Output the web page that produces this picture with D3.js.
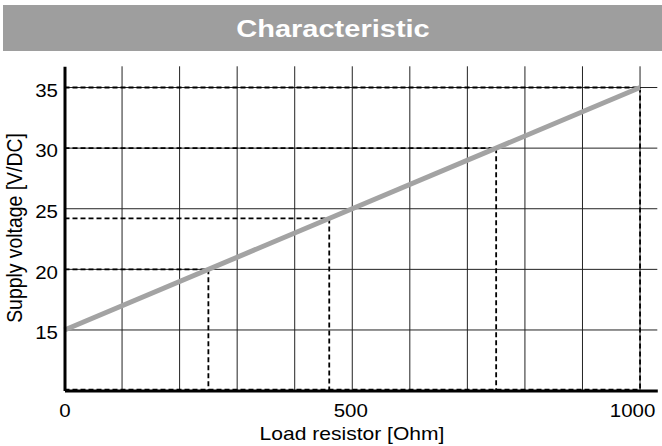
<!DOCTYPE html>
<html><head><meta charset="utf-8">
<script src="https://cdn.jsdelivr.net/npm/d3@7"></script>
<style>
html,body{margin:0;padding:0;background:#fff;}
svg{display:block;}
text{font-family:"Liberation Sans",Arial,Helvetica,sans-serif;}
</style></head>
<body><svg id="c" width="662" height="446"></svg>
<script>
const titleText = "Characteristic";
const xLabel = "Load resistor [Ohm]";
const yLabel = "Supply voltage [V/DC]";
const xTicks = [0, 500, 1000];
const yTicks = [15, 20, 25, 30, 35];
const xGrid = [100, 200, 300, 400, 500, 600, 700, 800, 900, 1000];
const yGrid = [15, 20, 25, 30, 35];
const lineX = [0, 1000];
const lineY = [15, 35];
const markX = [250, 460, 750, 1000];
const markY = [20, 24.2, 30, 35];

const svg = d3.select("#c");
const SX = 1.17;
const x = d3.scaleLinear().domain([0, 1030]).range([64.5, 657.3]);
const y = d3.scaleLinear().domain([10, 36.75]).range([390.6, 66.3]);

// title bar
svg.append("rect").attr("x", 3).attr("y", 5).attr("width", 659).attr("height", 46).attr("fill", "#9e9e9e");
svg.append("text").attr("transform", `translate(333,37) scale(${SX},1)`)
  .attr("text-anchor", "middle").attr("fill", "#fff").attr("font-weight", "bold")
  .attr("font-size", 24.8).text(titleText);

// grid
const g = svg.append("g");
g.selectAll(".vg").data(xGrid).enter().append("line")
  .attr("x1", d => x(d)).attr("x2", d => x(d)).attr("y1", y(10)).attr("y2", y(36.75))
  .attr("stroke", "#222").attr("stroke-width", 1);
g.selectAll(".hg").data(yGrid).enter().append("line")
  .attr("x1", x(0)).attr("x2", x(1030)).attr("y1", d => y(d)).attr("y2", d => y(d))
  .attr("stroke", "#222").attr("stroke-width", 1);

// dashed guides
const pts = markX.map((v, i) => ({x: v, y: markY[i]}));
g.selectAll(".dh").data(pts).enter().append("line")
  .attr("x1", x(0)).attr("x2", d => x(d.x)).attr("y1", d => y(d.y)).attr("y2", d => y(d.y))
  .attr("stroke", "#000").attr("stroke-width", 1.8).attr("stroke-dasharray", "5,3");
g.selectAll(".dv").data(pts).enter().append("line")
  .attr("x1", d => x(d.x)).attr("x2", d => x(d.x)).attr("y1", d => y(d.y)).attr("y2", y(10))
  .attr("stroke", "#000").attr("stroke-width", 1.8).attr("stroke-dasharray", "5,3");
// dashed bottom guide
g.append("line").attr("x1", x(0)).attr("x2", x(1000)).attr("y1", y(10) - 1).attr("y2", y(10) - 1)
  .attr("stroke", "#000").attr("stroke-width", 1.8).attr("stroke-dasharray", "5,3");

// characteristic line
const ld = lineX.map((v, i) => [v, lineY[i]]);
svg.append("path").datum(ld)
  .attr("d", d3.line().x(d => x(d[0])).y(d => y(d[1])))
  .attr("fill", "none").attr("stroke", "#a3a3a3").attr("stroke-width", 5);

// axes
const xShift = {0: 0, 500: -2, 1000: -8};
const ax = svg.append("g").attr("transform", `translate(0,${y(10)})`)
  .call(d3.axisBottom(x).tickValues(xTicks).tickSize(0).tickPadding(14).tickFormat(d3.format("d")));
ax.select(".domain").attr("stroke", "#000").attr("stroke-width", 3);
ax.selectAll("text").attr("font-size", 17.5).attr("fill", "#000").attr("font-family", "Liberation Sans, Arial, sans-serif")
  .attr("dy", "0.71em").attr("x", 0)
  .attr("transform", d => `translate(${xShift[d] || 0},0) scale(${SX},1)`);

const ay = svg.append("g").attr("transform", `translate(${x(0)},0)`)
  .call(d3.axisLeft(y).tickValues(yTicks).tickSize(0).tickPadding(8));
ay.select(".domain").attr("stroke", "#000").attr("stroke-width", 3);
ay.selectAll("text").attr("font-size", 17.5).attr("fill", "#000").attr("font-family", "Liberation Sans, Arial, sans-serif")
  .attr("x", 0).attr("dy", "0.5em")
  .attr("transform", `translate(-6.5,0) scale(${SX},1)`);

// axis labels
svg.append("text").attr("transform", `translate(352,440) scale(${SX},1)`)
  .attr("text-anchor", "middle").attr("font-size", 18).attr("fill", "#000").text(xLabel);
svg.append("text").attr("transform", `translate(22,228) rotate(-90) scale(1,1.12)`)
  .attr("text-anchor", "middle").attr("font-size", 19.4).attr("fill", "#000").text(yLabel);
</script></body></html>
